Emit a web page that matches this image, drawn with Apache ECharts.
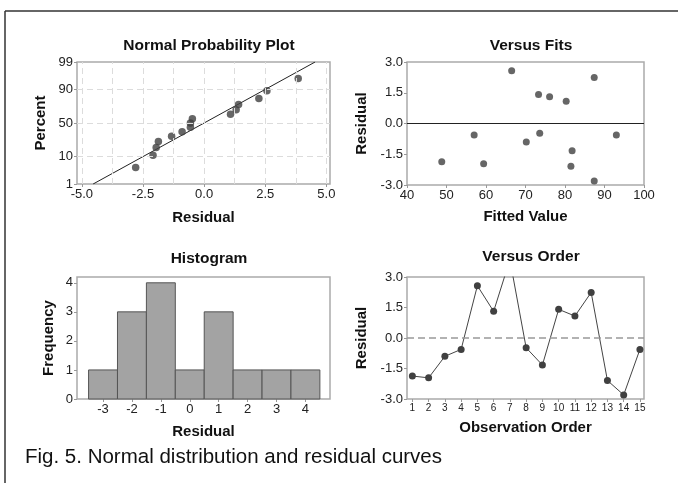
<!DOCTYPE html>
<html>
<head>
<meta charset="utf-8">
<script src="https://cdn.jsdelivr.net/npm/echarts@6/dist/echarts.min.js"></script>
<style>
  html, body { margin: 0; padding: 0; background: #fff; }
  #main { width: 678px; height: 483px; }
</style>
</head>
<body>
<div id="main"></div>
<script>
// residuals in observation order, with their fitted values
var orderObs = [1, 2, 3, 4, 5, 6, 7, 8, 9, 10, 11, 12, 13, 14, 15];
var orderResid = [-1.87, -1.96, -0.90, -0.56, 2.57, 1.31, 3.85, -0.48, -1.33, 1.41, 1.08, 2.24, -2.09, -2.80, -0.56];
var fittedValues = [48.8, 59.4, 70.2, 57.0, 66.5, 76.1, 63.0, 73.6, 81.8, 73.3, 80.3, 87.4, 81.5, 87.4, 93.0];

// normal probability plot: percent of each sorted residual, fitted line ends
var probPercent = [4.5, 11.0, 17.5, 24.0, 30.5, 37.0, 43.5, 50.0, 56.5, 63.0, 69.5, 76.0, 82.5, 89.0, 95.5];
var fitLineResid = [-4.54, 4.54];
var fitLinePercent = [1, 99];
var percentTicks = [1, 10, 50, 90, 99];
var percentGrid = [10, 50, 90];
var residTicks = [-5, -2.5, 0, 2.5, 5];
var residGrid = [-5, -3.75, -2.5, -1.25, 0, 1.25, 2.5, 3.75, 5];

// histogram
var histBins = [-3, -2, -1, 0, 1, 2, 3, 4];
var histCounts = [1, 3, 4, 1, 3, 1, 1, 1];
var freqTicks = [0, 1, 2, 3, 4];

// inverse normal cdf (percent -> z), used as the probability scale
function probit(pct) {
    var p = pct / 100;
    var a = [-3.969683028665376e+01, 2.209460984245205e+02, -2.759285104469687e+02, 1.383577518672690e+02, -3.066479806614716e+01, 2.506628277459239e+00];
    var b = [-5.447609879822406e+01, 1.615858368580409e+02, -1.556989798598866e+02, 6.680131188771972e+01, -1.328068155288572e+01];
    var c = [-7.784894002430293e-03, -3.223964580411365e-01, -2.400758277161838e+00, -2.549732539343734e+00, 4.374664141464968e+00, 2.938163982698783e+00];
    var d = [7.784695709041462e-03, 3.224671290700398e-01, 2.445134137142996e+00, 3.754408661907416e+00];
    var plow = 0.02425, q, r;
    if (p < plow) {
        q = Math.sqrt(-2 * Math.log(p));
        return (((((c[0] * q + c[1]) * q + c[2]) * q + c[3]) * q + c[4]) * q + c[5]) / ((((d[0] * q + d[1]) * q + d[2]) * q + d[3]) * q + 1);
    }
    if (p <= 1 - plow) {
        q = p - 0.5; r = q * q;
        return (((((a[0] * r + a[1]) * r + a[2]) * r + a[3]) * r + a[4]) * r + a[5]) * q / (((((b[0] * r + b[1]) * r + b[2]) * r + b[3]) * r + b[4]) * r + 1);
    }
    q = Math.sqrt(-2 * Math.log(1 - p));
    return -(((((c[0] * q + c[1]) * q + c[2]) * q + c[3]) * q + c[4]) * q + c[5]) / ((((d[0] * q + d[1]) * q + d[2]) * q + d[3]) * q + 1);
}

var FONT = 'Liberation Sans, Arial, sans-serif';
var labelStyle = { color: '#222', fontSize: 13, fontFamily: FONT, margin: 4 };
var nameStyle = { color: '#111', fontSize: 15, fontWeight: 'bold', fontFamily: FONT };
var titleStyle = { fontSize: 15.5, fontWeight: 'bold', fontFamily: FONT, color: '#111' };
var tickStyle = { show: true, length: 3, lineStyle: { color: '#999' } };
var noLine = { show: false, onZero: false };
var gridDash = { color: '#dcdcdc', type: [6, 4], width: 1 };
var pointColor = '#404040';

var sortedResid = orderResid.slice().sort(function (x, y) { return x - y; });
var probData = sortedResid.map(function (r, i) { return [r, probit(probPercent[i])]; });
var fitLineData = fitLineResid.map(function (r, i) { return [r, probit(fitLinePercent[i])]; });
var fitsData = fittedValues.map(function (f, i) { return [f, orderResid[i]]; });
var orderData = orderObs.map(function (o, i) { return [o, orderResid[i]]; });
var histData = histBins.map(function (b, i) { return [b, histCounts[i]]; });

var dom = document.getElementById('main');
var myChart = echarts.init(dom, null, { renderer: 'canvas' });

function gridBox(left, top, width, height) {
    return { left: left, top: top, width: width, height: height, show: true,
        borderColor: '#aaaaaa', borderWidth: 1.5, backgroundColor: 'transparent' };
}

var option = {
    animation: false,
    backgroundColor: '#fff',
    title: [
        { text: 'Normal Probability Plot', left: 204, top: 33, textAlign: 'center', textStyle: titleStyle },
        { text: 'Versus Fits', left: 526, top: 33, textAlign: 'center', textStyle: titleStyle },
        { text: 'Histogram', left: 204, top: 246, textAlign: 'center', textStyle: titleStyle },
        { text: 'Versus Order', left: 526, top: 244, textAlign: 'center', textStyle: titleStyle }
    ],
    grid: [
        gridBox(77, 62, 253, 122),
        gridBox(407, 62, 237, 123),
        gridBox(77, 277, 253, 122),
        gridBox(407, 277, 237, 122)
    ],
    xAxis: [
        { type: 'value', gridIndex: 0, min: -5.2, max: 5.15,
          name: 'Residual', nameLocation: 'middle', nameGap: 26, nameTextStyle: nameStyle,
          axisLine: noLine, splitLine: { show: false },
          axisTick: Object.assign({ customValues: residTicks }, tickStyle),
          axisLabel: Object.assign({ customValues: residTicks,
              formatter: function (v) { return v.toFixed(1); } }, labelStyle) },
        { type: 'value', gridIndex: 1, min: 40, max: 100, interval: 10,
          name: 'Fitted Value', nameLocation: 'middle', nameGap: 24, nameTextStyle: nameStyle,
          axisLine: noLine, splitLine: { show: false },
          axisTick: tickStyle, axisLabel: labelStyle },
        { type: 'value', gridIndex: 2, min: -3.9, max: 4.85,
          name: 'Residual', nameLocation: 'middle', nameGap: 25, nameTextStyle: nameStyle,
          axisLine: noLine, splitLine: { show: false },
          axisTick: Object.assign({ customValues: histBins }, tickStyle),
          axisLabel: Object.assign({ customValues: histBins }, labelStyle) },
        { type: 'value', gridIndex: 3, min: 0.67, max: 15.25,
          name: 'Observation Order', nameLocation: 'middle', nameGap: 21, nameTextStyle: nameStyle,
          axisLine: noLine, splitLine: { show: false },
          axisTick: Object.assign({ customValues: orderObs }, tickStyle),
          axisLabel: Object.assign({}, labelStyle, { customValues: orderObs, fontSize: 10, margin: 4 }) }
    ],
    yAxis: [
        { type: 'value', gridIndex: 0, min: probit(1), max: probit(99),
          name: 'Percent', nameLocation: 'middle', nameGap: 29, nameTextStyle: nameStyle,
          axisLine: noLine, splitLine: { show: false },
          axisTick: Object.assign({ customValues: percentTicks.map(probit) }, tickStyle),
          axisLabel: Object.assign({ customValues: percentTicks.map(probit),
              formatter: function (v) {
                  for (var i = 0; i < percentTicks.length; i++) {
                      if (Math.abs(probit(percentTicks[i]) - v) < 1e-6) return String(percentTicks[i]);
                  }
                  return '';
              } }, labelStyle) },
        { type: 'value', gridIndex: 1, min: -3, max: 3, interval: 1.5,
          name: 'Residual', nameLocation: 'middle', nameGap: 38, nameTextStyle: nameStyle,
          axisLine: noLine, splitLine: { show: false },
          axisTick: tickStyle,
          axisLabel: Object.assign({ formatter: function (v) { return v.toFixed(1); } }, labelStyle) },
        { type: 'value', gridIndex: 2, min: 0, max: 4.2,
          name: 'Frequency', nameLocation: 'middle', nameGap: 21, nameTextStyle: nameStyle,
          axisLine: noLine, splitLine: { show: false },
          axisTick: Object.assign({ customValues: freqTicks }, tickStyle),
          axisLabel: Object.assign({ customValues: freqTicks }, labelStyle) },
        { type: 'value', gridIndex: 3, min: -3, max: 3, interval: 1.5,
          name: 'Residual', nameLocation: 'middle', nameGap: 38, nameTextStyle: nameStyle,
          axisLine: noLine, splitLine: { show: false },
          axisTick: tickStyle,
          axisLabel: Object.assign({ formatter: function (v) { return v.toFixed(1); } }, labelStyle) }
    ],
    series: [
        {
            name: 'fit line', type: 'line', xAxisIndex: 0, yAxisIndex: 0, z: 2,
            data: fitLineData, showSymbol: false, symbol: 'none',
            lineStyle: { color: '#222', width: 1 },
            markLine: {
                silent: true, symbol: 'none', label: { show: false },
                lineStyle: gridDash,
                data: residGrid.map(function (v) { return { xAxis: v }; })
                    .concat(percentGrid.map(function (p) { return { yAxis: probit(p) }; }))
            }
        },
        {
            name: 'probability', type: 'scatter', xAxisIndex: 0, yAxisIndex: 0, z: 3,
            data: probData, symbolSize: 7.5, itemStyle: { color: pointColor }
        },
        {
            name: 'versus fits', type: 'scatter', xAxisIndex: 1, yAxisIndex: 1, z: 3, clip: true,
            data: fitsData, symbolSize: 7, itemStyle: { color: pointColor },
            markLine: {
                silent: true, symbol: 'none', label: { show: false },
                lineStyle: { color: '#222', width: 1, type: 'solid' },
                data: [{ yAxis: 0 }]
            }
        },
        {
            name: 'histogram', type: 'custom', xAxisIndex: 2, yAxisIndex: 2,
            data: histData,
            renderItem: function (params, api) {
                var x = api.value(0), h = api.value(1);
                var p0 = api.coord([x - 0.5, h]);
                var p1 = api.coord([x + 0.5, 0]);
                return {
                    type: 'rect',
                    shape: { x: p0[0], y: p0[1], width: p1[0] - p0[0], height: p1[1] - p0[1] },
                    style: { fill: '#a3a3a3', stroke: '#555', lineWidth: 1 }
                };
            }
        },
        {
            name: 'versus order', type: 'line', xAxisIndex: 3, yAxisIndex: 3, clip: true,
            data: orderData, symbol: 'circle', symbolSize: 7, showAllSymbol: true,
            itemStyle: { color: pointColor },
            lineStyle: { color: '#444', width: 1 },
            markLine: {
                silent: true, symbol: 'none', label: { show: false },
                lineStyle: { color: '#999', width: 1.5, type: [7, 4] },
                data: [{ yAxis: 0 }]
            }
        }
    ],
    graphic: [
        { type: 'line', shape: { x1: 5, y1: 11, x2: 678, y2: 11 }, style: { stroke: '#333', lineWidth: 1.5 } },
        { type: 'line', shape: { x1: 5, y1: 11, x2: 5, y2: 483 }, style: { stroke: '#333', lineWidth: 1.5 } },
        { type: 'text', x: 25, y: 457,
          style: { text: 'Fig. 5. Normal distribution and residual curves', fill: '#111',
                   fontSize: 20.5, fontFamily: FONT, verticalAlign: 'middle' } }
    ]
};

if (option && typeof option === 'object') {
    myChart.setOption(option);
}

window.addEventListener('resize', myChart.resize);
</script>
</body>
</html>
